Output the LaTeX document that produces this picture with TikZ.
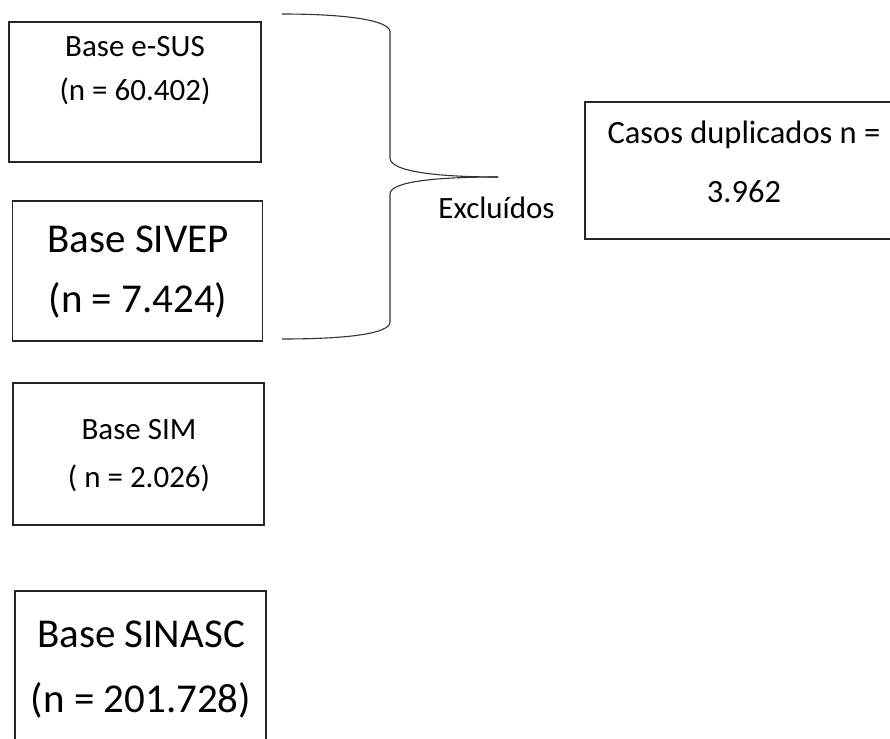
\documentclass[tikz,border=0pt]{standalone}
\usepackage{fontspec}
\setmainfont{Carlito}
\begin{document}
\begin{tikzpicture}[x=1pt,y=-1pt,
  basebox/.style={draw=black!85, line width=1.3pt, rectangle, inner sep=0pt},
  smalltxt/.style={anchor=base, inner sep=0pt, font=\fontsize{31}{36}\selectfont},
  midtxt/.style={anchor=base, inner sep=0pt, font=\fontsize{32.5}{38}\selectfont},
  bigtxt/.style={anchor=base, inner sep=0pt, font=\fontsize{41}{48}\selectfont},
  bracestyle/.style={draw=black!80, line width=1.1pt}]
\clip (0,0) rectangle (890,738);
\fill[white] (0,0) rectangle (890,738);
% boxes
\node[basebox, minimum width=252pt, minimum height=140pt] (esus) at (135,92) {};
\node[basebox, minimum width=250pt, minimum height=140pt] (sivep) at (137.5,271) {};
\node[basebox, minimum width=251pt, minimum height=142pt] (sim) at (138.5,454) {};
\node[basebox, minimum width=251pt, minimum height=200pt] (sinasc) at (140.5,691) {};
\node[basebox, minimum width=318pt, minimum height=137pt] (dup) at (744,170.5) {};
% texts
\node[smalltxt] (t1a) at (135,57) {Base e-SUS};
\node[smalltxt] (t1b) at (135,101) {(n = 60.402)};
\node[bigtxt] (t2a) at (138,252) {Base SIVEP};
\node[bigtxt] (t2b) at (138,312) {(n = 7.424)};
\node[smalltxt] (t3a) at (139,439) {Base SIM};
\node[smalltxt] (t3b) at (139,487) {( n = 2.026)};
\node[bigtxt] (t4a) at (141,647) {Base SINASC};
\node[bigtxt] (t4b) at (141,712) {(n = 201.728)};
\node[midtxt] (t5a) at (744,143) {Casos duplicados n =};
\node[midtxt] (t5b) at (744,202) {3.962};
\node[smalltxt] (excl) at (496.5,218) {Excluídos};
% brace
\coordinate (btop) at (282,14);
\coordinate (bbot) at (282,339);
\coordinate (btip) at (498,177);
\draw[bracestyle] (btop) .. controls (345,14) and (390,20) .. (390,32)
  -- (390,158) .. controls (390,172) and (440,177) .. (btip);
\draw[bracestyle] (btip) .. controls (440,177) and (390,181) .. (390,194)
  -- (390,322) .. controls (390,334) and (345,339) .. (bbot);
\end{tikzpicture}
\end{document}
